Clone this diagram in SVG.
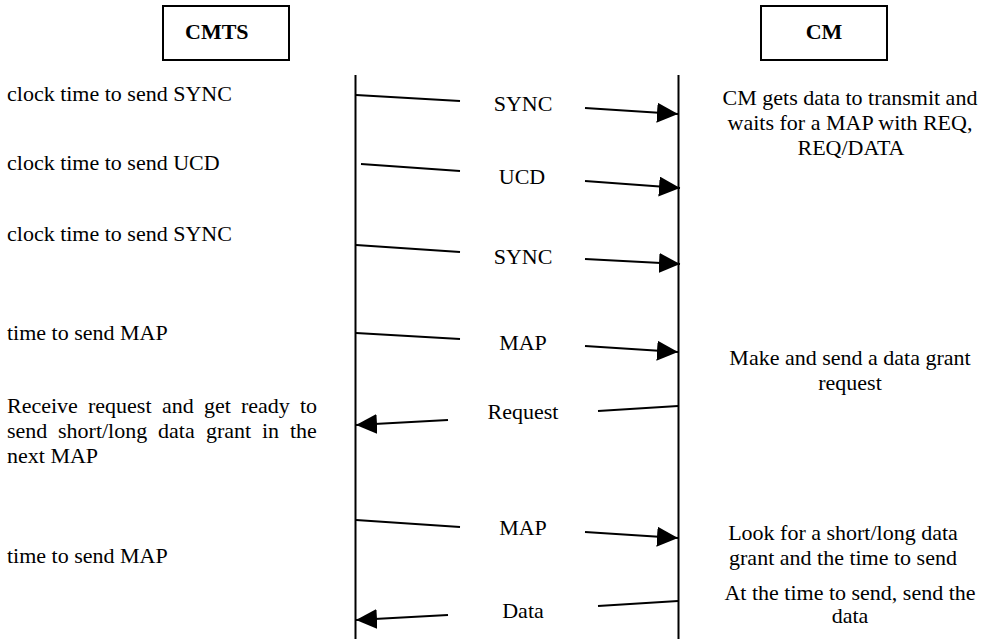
<svg xmlns="http://www.w3.org/2000/svg" width="989" height="639" viewBox="0 0 989 639">
  <style>
    text { font-family: "Liberation Serif", "Times New Roman", serif; font-size: 22px; fill: #000; }
    .title { font-weight: bold; }
    .mid { text-anchor: middle; }
    .box { fill: #fff; stroke: #000; stroke-width: 2; }
    .life { stroke: #000; stroke-width: 2; fill: none; }
    .msg { stroke: #000; stroke-width: 2; fill: none; }
    .arr { marker-end: url(#head); }
  </style>
  <defs>
    <marker id="head" markerUnits="userSpaceOnUse" markerWidth="22" markerHeight="22" refX="21" refY="10" orient="auto">
      <path d="M0,0 L21,10 L0,20 Z" fill="#000"/>
    </marker>
  </defs>
  <rect width="989" height="639" fill="#fff"/>

  <!-- headers -->
  <g id="cmts">
    <rect class="box" x="163" y="6" width="126" height="54"/>
    <text class="title" x="185" y="39">CMTS</text>
  </g>
  <g id="cm">
    <rect class="box" x="761" y="6" width="126" height="54"/>
    <text class="title mid" x="824" y="39">CM</text>
  </g>

  <!-- lifelines -->
  <g id="lifelines">
    <line class="life" x1="355.5" y1="75" x2="355.5" y2="639"/>
    <line class="life" x1="678.5" y1="75" x2="678.5" y2="639"/>
  </g>

  <!-- CMTS side notes (the request note is justified) -->
  <g id="cmts-notes">
    <text x="7" y="101">clock time to send SYNC</text>
    <text x="7" y="170">clock time to send UCD</text>
    <text x="7" y="241">clock time to send SYNC</text>
    <text x="7" y="340">time to send MAP</text>
    <text y="413"><tspan x="7">Receive</tspan><tspan x="88">request</tspan><tspan x="162">and</tspan><tspan x="204">get</tspan><tspan x="241">ready</tspan><tspan x="300">to</tspan></text>
    <text y="438"><tspan x="7">send</tspan><tspan x="58">short/long</tspan><tspan x="158">data</tspan><tspan x="206">grant</tspan><tspan x="262">in</tspan><tspan x="290">the</tspan></text>
    <text x="7" y="463">next MAP</text>
    <text x="7" y="563">time to send MAP</text>
  </g>

  <!-- CM side notes -->
  <g id="cm-notes">
    <text class="mid" x="850" y="105">CM gets data to transmit and</text>
    <text class="mid" x="850" y="130">waits for a MAP with REQ,</text>
    <text class="mid" x="851" y="155">REQ/DATA</text>
    <text class="mid" x="850" y="365">Make and send a data grant</text>
    <text class="mid" x="850" y="390">request</text>
    <text class="mid" x="843" y="540">Look for a short/long data</text>
    <text class="mid" x="843" y="565">grant and the time to send</text>
    <text class="mid" x="850" y="600">At the time to send, send the</text>
    <text class="mid" x="850" y="623">data</text>
  </g>

  <!-- messages -->
  <g id="connectors">
    <line class="msg" x1="356" y1="95" x2="460" y2="101"/>
    <line class="msg arr" x1="585" y1="108" x2="678" y2="114"/>

    <line class="msg" x1="361" y1="164" x2="460" y2="171"/>
    <line class="msg arr" x1="585" y1="181" x2="680" y2="188"/>

    <line class="msg" x1="356" y1="245" x2="460" y2="252"/>
    <line class="msg arr" x1="585" y1="259" x2="680" y2="264"/>

    <line class="msg" x1="356" y1="333" x2="460" y2="339"/>
    <line class="msg arr" x1="585" y1="346" x2="678" y2="352"/>

    <line class="msg" x1="678" y1="406" x2="598" y2="411"/>
    <line class="msg arr" x1="448" y1="420" x2="356" y2="425"/>

    <line class="msg" x1="356" y1="520" x2="460" y2="527"/>
    <line class="msg arr" x1="585" y1="532" x2="678" y2="538"/>

    <line class="msg" x1="678" y1="601" x2="598" y2="606"/>
    <line class="msg arr" x1="448" y1="615" x2="356" y2="620"/>
  </g>

  <!-- message labels -->
  <g id="labels">
    <text class="mid" x="523" y="111">SYNC</text>
    <text class="mid" x="522" y="184">UCD</text>
    <text class="mid" x="523" y="264">SYNC</text>
    <text class="mid" x="523" y="350">MAP</text>
    <text class="mid" x="523" y="419">Request</text>
    <text class="mid" x="523" y="535">MAP</text>
    <text class="mid" x="523" y="618">Data</text>
  </g>
</svg>
